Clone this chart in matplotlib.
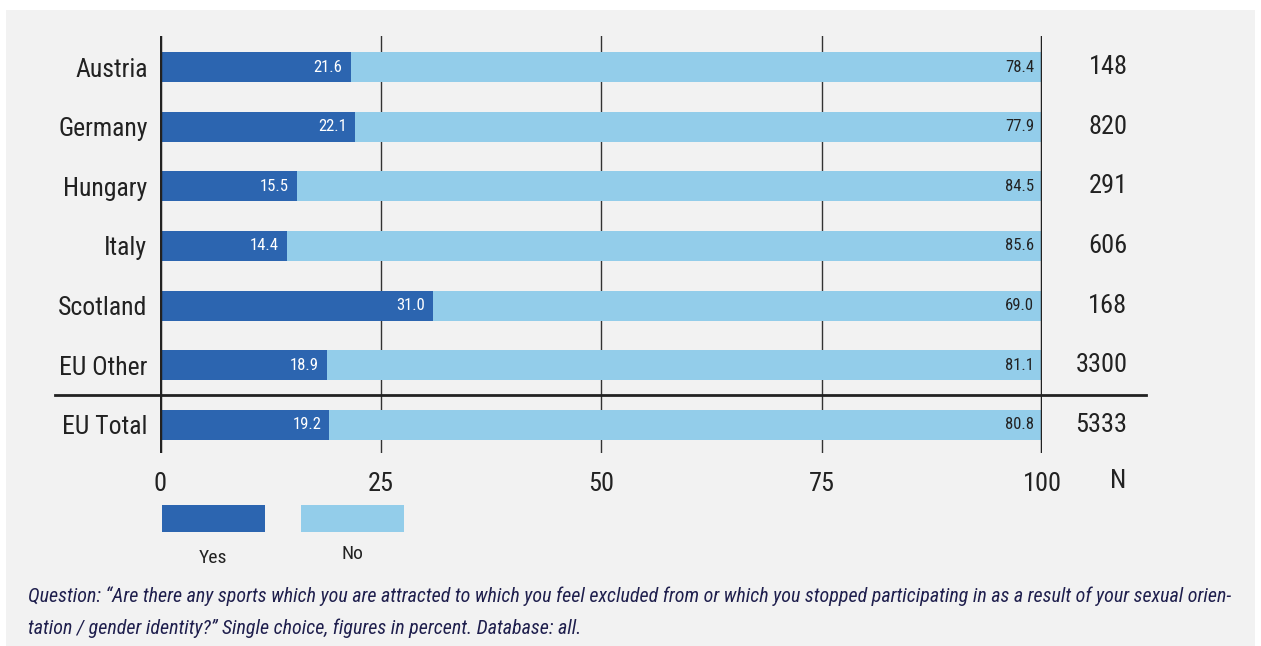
import matplotlib
matplotlib.use('Agg')
import matplotlib.pyplot as plt
from matplotlib import font_manager
from matplotlib.patches import Rectangle

# Data
countries = ['Austria', 'Germany', 'Hungary', 'Italy', 'Scotland', 'EU Other', 'EU Total']
yes_pct = [21.6, 22.1, 15.5, 14.4, 31.0, 18.9, 19.2]
no_pct = [78.4, 77.9, 84.5, 85.6, 69.0, 81.1, 80.8]
n_resp = [148, 820, 291, 606, 168, 3300, 5333]
x_ticks = [0, 25, 50, 75, 100]
question = ('Question: \u201cAre there any sports which you are attracted to which you feel excluded '
            'from or which you stopped participating in as a result of your sexual orien-\n'
            'tation / gender identity?\u201d Single choice, figures in percent. Database: all.')

# pick a narrow font if one is around
font = 'DejaVu Sans'
for cand in ['Roboto Condensed', 'Liberation Sans Narrow', 'DejaVu Sans Condensed']:
    try:
        font_manager.findfont(cand, fallback_to_default=False)
        font = cand
        break
    except Exception:
        pass
plt.rcParams['font.family'] = [font, 'DejaVu Sans']

dark_blue = '#2c65b0'
light_blue = '#93cdea'
txt = '#222222'
W, H = 1261, 646

fig = plt.figure(figsize=(W / 100, H / 100), dpi=100)
fig.patch.set_facecolor('white')

# grey panel behind everything
fig.patches.append(Rectangle((6 / W, 0), (1255 - 6) / W, (646 - 10) / H,
                             transform=fig.transFigure, facecolor='#f2f2f2',
                             edgecolor='none', zorder=-10))

ax = fig.add_axes([160 / W, (H - 453) / H, 882 / W, 417 / H])
ax.set_facecolor('none')

ypos = list(range(len(countries)))
ax.barh(ypos, yes_pct, height=0.5, color=dark_blue, zorder=3)
ax.barh(ypos, no_pct, left=yes_pct, height=0.5, color=light_blue, zorder=3)

ax.set_xlim(0, 100)
ax.set_ylim(6.47, -0.52)

for v in [25, 50, 75]:
    ax.axvline(v, color='#333333', lw=1.0, zorder=1)
for v in [0, 100]:
    ax.axvline(v, color=txt, lw=2.5, zorder=4)

for s in ax.spines.values():
    s.set_visible(False)

ax.set_xticks(x_ticks)
ax.set_xticklabels([str(t) for t in x_ticks], fontsize=19, color=txt)
ax.tick_params(axis='x', length=0, pad=14)
ax.set_yticks(ypos)
ax.set_yticklabels(countries, fontsize=18.5, color=txt)
ax.tick_params(axis='y', length=0, pad=9)

# separator above EU Total
ax.plot([-11.9, 111.8], [5.5, 5.5], color=txt, lw=2, clip_on=False, zorder=5)

for i in ypos:
    ax.text(yes_pct[i] - 0.9, i, f'{yes_pct[i]:.1f}', ha='right', va='center',
            color='white', fontsize=12, zorder=6)
    ax.text(99.1, i, f'{no_pct[i]:.1f}', ha='right', va='center',
            color=txt, fontsize=12, zorder=6)
    ax.text(109.7, i, str(n_resp[i]), ha='right', va='center',
            color=txt, fontsize=19, zorder=6, clip_on=False)

fig.text(1126 / W, 1 - 481 / H, 'N', ha='right', va='center', fontsize=19, color=txt)

# legend
fig.patches.append(Rectangle((162 / W, 1 - 532 / H), 103 / W, 27 / H,
                             transform=fig.transFigure, facecolor=dark_blue, edgecolor='none'))
fig.patches.append(Rectangle((301 / W, 1 - 532 / H), 103 / W, 27 / H,
                             transform=fig.transFigure, facecolor=light_blue, edgecolor='none'))
fig.text(213 / W, 1 - 558 / H, 'Yes', ha='center', va='center', fontsize=14, color=txt)
fig.text(352 / W, 1 - 554 / H, 'No', ha='center', va='center', fontsize=14, color=txt)

fig.text(28 / W, 1 - 612 / H, question, ha='left', va='center', fontsize=14.4,
         style='italic', color='#1f1f4d', linespacing=1.85)

fig.savefig('out.png', dpi=100, facecolor=fig.get_facecolor())
